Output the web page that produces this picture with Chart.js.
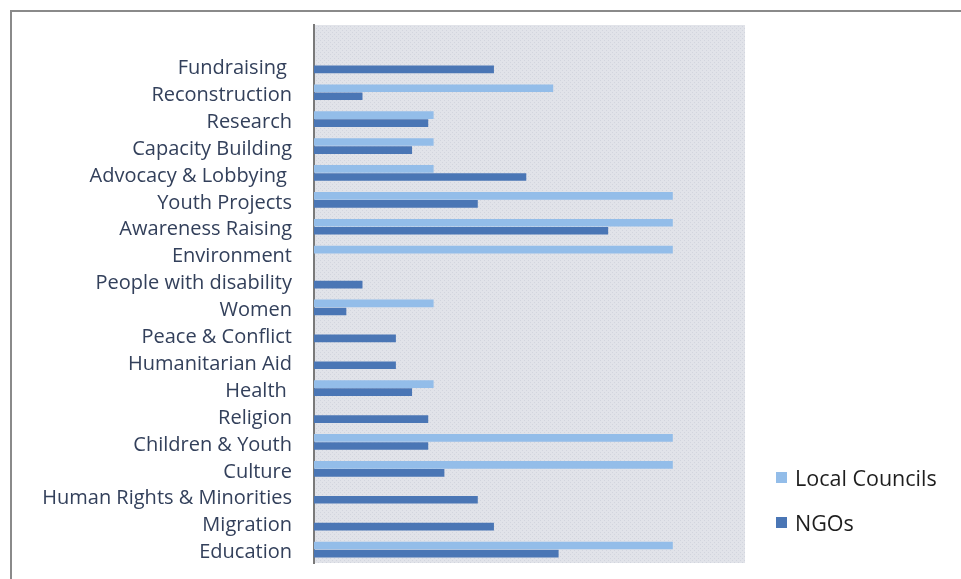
<!DOCTYPE html>
<html>
<head>
<meta charset="utf-8">
<script src="https://cdn.jsdelivr.net/npm/chart.js@4"></script>
<style>
  html, body { margin: 0; padding: 0; background: #fff; }
  #wrap { position: relative; width: 961px; height: 579px; }
  #frame {
    position: absolute; left: 10px; top: 10px; right: 0; bottom: 0;
    border-top: 2px solid #8a8a8a; border-left: 2px solid #8a8a8a;
    pointer-events: none;
  }
  canvas { position: absolute; left: 0; top: 0; }
</style>
</head>
<body>
<div id="wrap">
  <canvas id="chart" width="961" height="579"></canvas>
  <div id="frame"></div>
</div>
<script>
// categories, top to bottom (first slot is left empty like the original)
const categories = [
  "", "Fundraising ", "Reconstruction", "Research", "Capacity Building",
  "Advocacy & Lobbying ", "Youth Projects", "Awareness Raising", "Environment",
  "People with disability", "Women", "Peace & Conflict", "Humanitarian Aid",
  "Health ", "Religion", "Children & Youth", "Culture",
  "Human Rights & Minorities", "Migration", "Education"
];

// percent of respondents
const localCouncils = [
  null, null, 22.2, 11.1, 11.1, 11.1, 33.3, 33.3, 33.3, null,
  11.1, null, null, 11.1, null, 33.3, 33.3, null, null, 33.3
];
const ngos = [
  null, 16.7, 4.5, 10.6, 9.1, 19.7, 15.2, 27.3, null, 4.5,
  3.0, 7.6, 7.6, 9.1, 10.6, 10.6, 12.1, 15.2, 16.7, 22.7
];

const seriesNames = ["Local Councils", "NGOs"];
const seriesColors = ["#93bde9", "#4a76b5"];

function makePattern() {
  const c = document.createElement("canvas");
  c.width = 4;
  c.height = 4;
  const g = c.getContext("2d");
  g.fillStyle = "#e1e3e9";
  g.fillRect(0, 0, 4, 4);
  g.fillStyle = "#d2d5de";
  g.fillRect(0, 0, 1, 1);
  g.fillRect(2, 2, 1, 1);
  return g.createPattern(c, "repeat");
}

const plotBackground = {
  id: "plotBackground",
  beforeDraw(chart) {
    const { ctx, chartArea } = chart;
    ctx.save();
    ctx.fillStyle = makePattern();
    ctx.fillRect(chartArea.left, chartArea.top, chartArea.right - chartArea.left, chartArea.bottom - chartArea.top);
    ctx.restore();
  },
};

const sideLegend = {
  id: "sideLegend",
  afterDraw(chart) {
    const ctx = chart.ctx;
    ctx.save();
    ctx.font = "21.5px 'Open Sans'";
    ctx.textBaseline = "middle";
    chart.data.datasets.forEach((ds, i) => {
      const y = 477 + i * 45;
      ctx.fillStyle = ds.backgroundColor;
      ctx.fillRect(776, y - 5, 11, 11);
      ctx.fillStyle = "#1e1e1e";
      ctx.fillText(ds.label, 795, y + 3);
    });
    ctx.restore();
  },
};

const ctx = document.getElementById("chart").getContext("2d");
new Chart(ctx, {
  type: "bar",
  data: {
    labels: categories,
    datasets: [
      { label: seriesNames[0], data: localCouncils, backgroundColor: seriesColors[0] },
      { label: seriesNames[1], data: ngos, backgroundColor: seriesColors[1] },
    ],
  },
  options: {
    indexAxis: "y",
    responsive: false,
    animation: false,
    categoryPercentage: 0.6,
    barPercentage: 0.95,
    layout: { padding: { left: 0, top: 25, right: 216, bottom: 16 } },
    plugins: {
      legend: { display: false },
      tooltip: { enabled: false },
    },
    scales: {
      x: { display: false, min: 0, max: 40 },
      y: {
        grid: { display: false, drawTicks: false },
        border: { display: true, color: "#7a7a7a", width: 2 },
        ticks: {
          autoSkip: false,
          padding: 22,
          labelOffset: 3,
          color: "#33405b",
          font: { family: "Open Sans", size: 20 },
        },
        afterFit(scale) {
          scale.width = 314;
          // labels sit inside the bands, no extra room needed top/bottom
          scale.paddingTop = 0;
          scale.paddingBottom = 0;
        },
      },
    },
  },
  plugins: [plotBackground, sideLegend],
});
</script>
</body>
</html>
